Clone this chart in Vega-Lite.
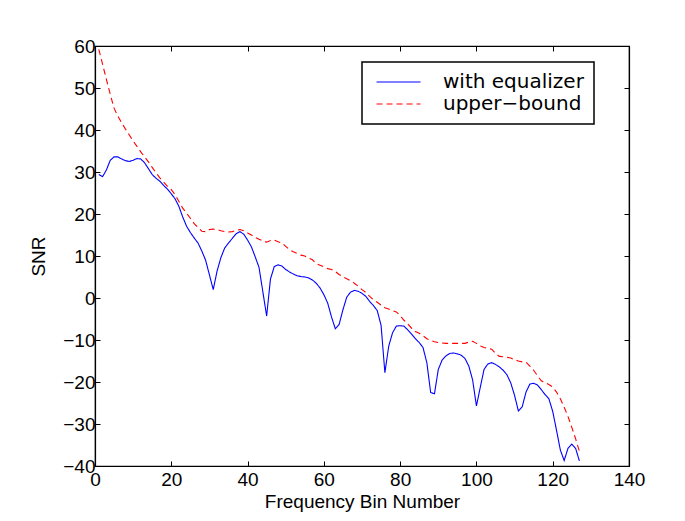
{
  "$schema": "https://vega.github.io/schema/vega-lite/v6.json",
  "width": 534,
  "height": 420,
  "autosize": {"type": "none"},
  "padding": {"left": 95, "top": 46, "right": 56, "bottom": 55},
  "background": "white",
  "config": {
    "view": {"stroke": "black", "strokeWidth": 1.2},
    "font": "Liberation Sans",
    "axis": {
      "grid": false,
      "domainColor": "black",
      "domainWidth": 1.2,
      "tickColor": "black",
      "tickWidth": 1,
      "tickSize": -5,
      "labelColor": "black",
      "labelFont": "Liberation Sans",
      "labelFontSize": 19,
      "labelFlush": false,
      "labelOverlap": false,
      "titleColor": "black",
      "titleFont": "Liberation Sans",
      "titleFontSize": 19,
      "titleFontWeight": "normal"
    },
    "legend": {"strokeWidth": 1.5}
  },
  "data": {
    "values": [
      {"bin":1,"eq":29.4,"ub":59.2},{"bin":2,"eq":28.9,"ub":55.6},{"bin":3,"eq":30.5,"ub":52.0},{"bin":4,"eq":32.8,"ub":48.5},
      {"bin":5,"eq":33.6,"ub":45.2},{"bin":6,"eq":33.6,"ub":43.3},{"bin":7,"eq":33.1,"ub":41.7},{"bin":8,"eq":32.7,"ub":40.2},
      {"bin":9,"eq":32.5,"ub":38.8},{"bin":10,"eq":32.8,"ub":37.4},{"bin":11,"eq":33.2,"ub":36.1},{"bin":12,"eq":33.1,"ub":34.8},
      {"bin":13,"eq":32.2,"ub":33.6},{"bin":14,"eq":30.8,"ub":32.4},{"bin":15,"eq":29.4,"ub":31.1},{"bin":16,"eq":28.5,"ub":29.8},
      {"bin":17,"eq":27.8,"ub":28.6},{"bin":18,"eq":26.8,"ub":27.6},{"bin":19,"eq":25.9,"ub":26.6},{"bin":20,"eq":24.8,"ub":25.8},
      {"bin":21,"eq":23.6,"ub":24.6},{"bin":22,"eq":21.8,"ub":23.0},{"bin":23,"eq":19.3,"ub":21.4},{"bin":24,"eq":17.1,"ub":20.2},
      {"bin":25,"eq":15.6,"ub":19.0},{"bin":26,"eq":14.3,"ub":17.7},{"bin":27,"eq":13.1,"ub":16.8},{"bin":28,"eq":11.2,"ub":15.9},
      {"bin":29,"eq":9.0,"ub":15.8},{"bin":30,"eq":5.5,"ub":16.3},{"bin":31,"eq":2.0,"ub":16.4},{"bin":32,"eq":6.4,"ub":16.3},
      {"bin":33,"eq":9.6,"ub":16.0},{"bin":34,"eq":11.9,"ub":15.8},{"bin":35,"eq":13.1,"ub":15.7},{"bin":36,"eq":14.2,"ub":15.8},
      {"bin":37,"eq":15.3,"ub":16.1},{"bin":38,"eq":15.8,"ub":16.3},{"bin":39,"eq":15.2,"ub":16.0},{"bin":40,"eq":13.8,"ub":15.5},
      {"bin":41,"eq":12.2,"ub":15.0},{"bin":42,"eq":9.8,"ub":14.4},{"bin":43,"eq":7.3,"ub":14.0},{"bin":44,"eq":1.5,"ub":13.6},
      {"bin":45,"eq":-4.3,"ub":13.3},{"bin":46,"eq":4.5,"ub":13.7},{"bin":47,"eq":7.5,"ub":13.8},{"bin":48,"eq":7.9,"ub":13.4},
      {"bin":49,"eq":7.6,"ub":13.1},{"bin":50,"eq":6.8,"ub":12.3},{"bin":51,"eq":6.2,"ub":11.5},{"bin":52,"eq":5.7,"ub":11.0},
      {"bin":53,"eq":5.3,"ub":10.6},{"bin":54,"eq":5.1,"ub":10.2},{"bin":55,"eq":5.0,"ub":10.0},{"bin":56,"eq":4.8,"ub":9.5},
      {"bin":57,"eq":4.3,"ub":9.1},{"bin":58,"eq":3.5,"ub":8.2},{"bin":59,"eq":2.4,"ub":7.8},{"bin":60,"eq":0.8,"ub":7.4},
      {"bin":61,"eq":-1.2,"ub":7.0},{"bin":62,"eq":-4.5,"ub":6.8},{"bin":63,"eq":-7.3,"ub":6.3},{"bin":64,"eq":-6.3,"ub":5.6},
      {"bin":65,"eq":-2.8,"ub":5.0},{"bin":66,"eq":0.2,"ub":4.6},{"bin":67,"eq":1.4,"ub":4.1},{"bin":68,"eq":1.8,"ub":3.5},
      {"bin":69,"eq":1.6,"ub":2.8},{"bin":70,"eq":1.1,"ub":2.0},{"bin":71,"eq":0.4,"ub":1.3},{"bin":72,"eq":-0.8,"ub":0.4},
      {"bin":73,"eq":-1.8,"ub":-0.4},{"bin":74,"eq":-3.0,"ub":-1.0},{"bin":75,"eq":-6.5,"ub":-1.7},{"bin":76,"eq":-17.8,"ub":-2.3},
      {"bin":77,"eq":-11.5,"ub":-2.6},{"bin":78,"eq":-8.3,"ub":-3.0},{"bin":79,"eq":-6.7,"ub":-3.3},{"bin":80,"eq":-6.6,"ub":-4.2},
      {"bin":81,"eq":-6.7,"ub":-5.3},{"bin":82,"eq":-7.6,"ub":-6.2},{"bin":83,"eq":-8.6,"ub":-7.2},{"bin":84,"eq":-9.7,"ub":-8.0},
      {"bin":85,"eq":-10.6,"ub":-8.4},{"bin":86,"eq":-11.8,"ub":-9.0},{"bin":87,"eq":-15.4,"ub":-9.7},{"bin":88,"eq":-22.5,"ub":-10.1},
      {"bin":89,"eq":-22.8,"ub":-10.4},{"bin":90,"eq":-17.0,"ub":-10.6},{"bin":91,"eq":-14.8,"ub":-10.7},{"bin":92,"eq":-13.8,"ub":-10.8},
      {"bin":93,"eq":-13.2,"ub":-10.8},{"bin":94,"eq":-13.1,"ub":-10.8},{"bin":95,"eq":-13.3,"ub":-10.8},{"bin":96,"eq":-13.6,"ub":-10.8},
      {"bin":97,"eq":-14.4,"ub":-10.8},{"bin":98,"eq":-16.2,"ub":-10.5},{"bin":99,"eq":-19.5,"ub":-10.3},{"bin":100,"eq":-25.7,"ub":-10.8},
      {"bin":101,"eq":-21.3,"ub":-11.4},{"bin":102,"eq":-17.0,"ub":-11.8},{"bin":103,"eq":-15.7,"ub":-12.0},{"bin":104,"eq":-15.4,"ub":-12.2},
      {"bin":105,"eq":-15.8,"ub":-13.2},{"bin":106,"eq":-16.4,"ub":-13.9},{"bin":107,"eq":-17.2,"ub":-14.0},{"bin":108,"eq":-18.3,"ub":-14.1},
      {"bin":109,"eq":-20.2,"ub":-14.3},{"bin":110,"eq":-23.2,"ub":-14.7},{"bin":111,"eq":-26.9,"ub":-15.0},{"bin":112,"eq":-25.9,"ub":-15.2},
      {"bin":113,"eq":-22.4,"ub":-15.3},{"bin":114,"eq":-20.5,"ub":-16.2},{"bin":115,"eq":-20.3,"ub":-17.2},{"bin":116,"eq":-20.7,"ub":-18.5},
      {"bin":117,"eq":-21.8,"ub":-19.7},{"bin":118,"eq":-23.0,"ub":-20.2},{"bin":119,"eq":-24.0,"ub":-20.6},{"bin":120,"eq":-27.0,"ub":-21.2},
      {"bin":121,"eq":-31.5,"ub":-22.4},{"bin":122,"eq":-36.2,"ub":-24.0},{"bin":123,"eq":-38.7,"ub":-26.0},{"bin":124,"eq":-35.8,"ub":-28.2},
      {"bin":125,"eq":-34.8,"ub":-30.8},{"bin":126,"eq":-35.8,"ub":-33.5},{"bin":127,"eq":-38.8,"ub":-36.5}
    ]
  },
  "transform": [{"fold": ["eq", "ub"], "as": ["series", "snr"]}],
  "layer": [
    {
      "mark": {"type": "line", "strokeWidth": 1.1},
      "encoding": {
        "x": {"field": "bin", "type": "quantitative", "scale": {"domain": [0, 140], "nice": false},
              "axis": {"orient": "bottom", "values": [0, 20, 40, 60, 80, 100, 120, 140], "title": "Frequency Bin Number", "labelPadding": 9, "titlePadding": 3}},
        "y": {"field": "snr", "type": "quantitative", "scale": {"domain": [-40, 60], "nice": false},
              "axis": {"orient": "left", "values": [-40, -30, -20, -10, 0, 10, 20, 30, 40, 50, 60], "title": "SNR", "labelPadding": 5, "titlePadding": 14}},
        "color": {"field": "series", "type": "nominal",
                  "scale": {"domain": ["eq", "ub"], "range": ["#0000ff", "#ff0000"]},
                  "legend": {"title": null, "orient": "none", "legendX": 267, "legendY": 16, "direction": "vertical",
                             "strokeColor": "black", "fillColor": "white", "padding": 10,
                             "symbolType": "M-1,0H7", "symbolSize": 121, "symbolStrokeWidth": 1.2,
                             "labelOffset": 51, "labelFontSize": 20, "labelColor": "black", "labelFont": "DejaVu Sans",
                             "rowPadding": 2,
                             "labelExpr": "datum.value == 'eq' ? 'with equalizer' : 'upper\u2212bound'"}},
        "strokeDash": {"field": "series", "type": "nominal",
                       "scale": {"domain": ["eq", "ub"], "range": [[1, 0], [6, 4]]},
                       "legend": {"title": null, "orient": "none", "legendX": 267, "legendY": 16, "direction": "vertical",
                             "strokeColor": "black", "fillColor": "white", "padding": 10,
                             "symbolType": "M-1,0H7", "symbolSize": 121, "symbolStrokeWidth": 1.2,
                             "labelOffset": 51, "labelFontSize": 20, "labelColor": "black", "labelFont": "DejaVu Sans",
                             "rowPadding": 2,
                             "labelExpr": "datum.value == 'eq' ? 'with equalizer' : 'upper\u2212bound'"}}
      }
    },
    {
      "mark": {"type": "point", "opacity": 0},
      "encoding": {
        "x": {"field": "bin", "type": "quantitative",
              "axis": {"orient": "top", "values": [0, 20, 40, 60, 80, 100, 120, 140], "labels": false, "title": null}},
        "y": {"field": "snr", "type": "quantitative",
              "axis": {"orient": "right", "values": [-40, -30, -20, -10, 0, 10, 20, 30, 40, 50, 60], "labels": false, "title": null}}
      }
    }
  ],
  "resolve": {"axis": {"x": "independent", "y": "independent"}}
}
